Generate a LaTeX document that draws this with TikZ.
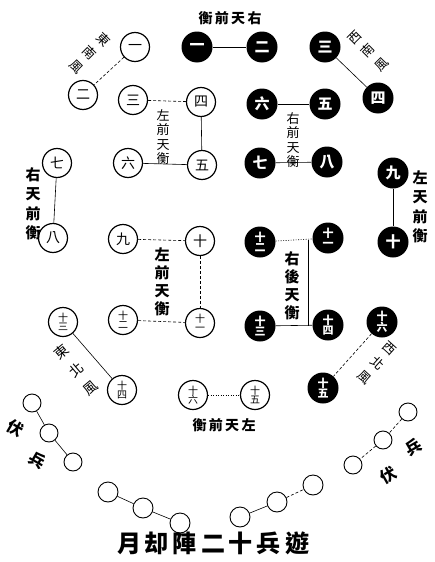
\documentclass[tikz,border=0pt]{standalone}
\usepackage{fontspec}
\newfontfamily\cjk{Noto Sans CJK TC}
\begin{document}
\begin{tikzpicture}[x=1pt, y=-1pt,
  wpost/.style={circle, draw, line width=1.2pt, minimum size=29pt, inner sep=0pt, font=\cjk\fontsize{14}{14}\selectfont},
  bpost/.style={circle, fill=black, text=white, minimum size=31pt, inner sep=0pt, font=\cjk\bfseries\fontsize{15}{15}\selectfont},
  two/.style={align=center, font=\cjk\fontsize{10}{9.5}\selectfont},
  btwo/.style={align=center, font=\cjk\bfseries\fontsize{11}{10}\selectfont},
  ring/.style={circle, draw, line width=0.9pt, minimum size=18pt, inner sep=0pt},
  col/.style={align=center, inner sep=0pt, font=\cjk\fontsize{13}{14.5}\selectfont},
  windcol/.style={align=center, inner sep=0pt, font=\cjk\fontsize{13}{19}\selectfont},
  tallcol/.style={align=center, inner sep=0pt, font=\cjk\bfseries\fontsize{15}{19.5}\selectfont},
  head/.style={font=\cjk\bfseries\fontsize{14}{14}\selectfont},
  link/.style={line width=0.6pt},
  dashlink/.style={line width=0.6pt, dash pattern=on 3pt off 2pt},
  dotlink/.style={line width=0.6pt, dash pattern=on 1pt off 1.5pt}]
  \useasboundingbox (0,0) rectangle (434,562);

  % top row
  \node[wpost] (w1) at (135,47) {一};
  \node[wpost] (w2) at (83,95) {二};
  \node[bpost] (b1) at (197,47) {一};
  \node[bpost] (b2) at (262,47) {二};
  \node[bpost] (b3) at (325,47) {三};
  \node[bpost] (b4) at (378,98) {四};
  \node[head] (ttop) at (230,18) {衡\,前\,天\,右};
  \node[windcol, rotate=-45] (tse) at (90,53) {東\\南\\風};
  \node[windcol, rotate=45] (tsw) at (368,51) {西\\南\\風};

  \draw[dashlink] (w1) -- (w2);
  \draw[link] (b1) -- (b2);
  \draw[link] (b3) -- (b4);

  % second row
  \node[wpost] (w3) at (133,100) {三};
  \node[wpost] (w4) at (201,102) {四};
  \node[wpost] (w6) at (128,163) {六};
  \node[wpost] (w5) at (202,165) {五};
  \node[col] (tlf1) at (163,137) {左\\前\\天\\衡};
  \node[bpost] (b6) at (262,104) {六};
  \node[bpost] (b5) at (325,104) {五};
  \node[bpost] (b7) at (260,163) {七};
  \node[bpost] (b8) at (327,162) {八};
  \node[col] (trf1) at (293,140) {右\\前\\天\\衡};

  \draw[dashlink] (w3) -- (w4);
  \draw[link] (w4) -- (w5);
  \draw[link] (w6) -- (w5);
  \draw[link] (b6) -- (b5);
  \draw[link] (b7) -- (b8);

  % side pairs
  \node[wpost] (w7) at (57,163) {七};
  \node[wpost] (w8) at (53,238) {八};
  \node[tallcol] (trt) at (33,204) {右\\天\\前\\衡};
  \node[bpost] (b9) at (393,173) {九};
  \node[bpost] (b10) at (393,242) {十};
  \node[tallcol] (tlt) at (420,207) {左\\天\\前\\衡};

  \draw[link] (w7) -- (w8);
  \draw[link] (b9) -- (b10);

  % third row
  \node[wpost] (w9) at (123,239) {九};
  \node[wpost] (w10) at (200,241) {十};
  \node[wpost, two] (w12) at (123,320) {十\\二};
  \node[wpost, two] (w11) at (200,323) {十\\一};
  \node[tallcol, font=\cjk\bfseries\fontsize{15}{18}\selectfont] (tlf2) at (162,282) {左\\前\\天\\衡};
  \node[bpost, btwo] (b12) at (260,242) {十\\二};
  \node[bpost, btwo] (b11) at (328,238) {十\\一};
  \node[bpost, btwo] (b13) at (260,326) {十\\三};
  \node[bpost, btwo] (b14) at (328,325) {十\\四};
  \node[tallcol, font=\cjk\bfseries\fontsize{15}{18}\selectfont] (trb) at (292,286) {右\\後\\天\\衡};
  \coordinate (kTop) at (308,240);
  \coordinate (kBot) at (308,326);

  \draw[dashlink] (w9) -- (w10);
  \draw[dashlink] (w10) -- (w11);
  \draw[dashlink] (w12) -- (w11);
  \draw[dotlink] (b12) -- (b11);
  \draw[link] (kTop) -- (kBot);
  \draw[link] (b13) -- (b14);

  % lower pairs
  \node[wpost, two] (w13) at (63,322) {十\\三};
  \node[wpost, two] (w14) at (122,390) {十\\四};
  \node[windcol, font=\cjk\fontsize{14}{23}\selectfont, rotate=40] (tne) at (76,370) {東\\北\\風};
  \node[wpost, two] (w16) at (193,395) {十\\六};
  \node[wpost, two] (w15) at (255,395) {十\\五};
  \node[head] (tbot) at (224,425) {衡\,前\,天\,左};
  \node[bpost, btwo] (b16) at (382,322) {十\\六};
  \node[bpost, btwo] (b15) at (323,388) {十\\五};
  \node[windcol, rotate=-42] (tnw) at (377,363) {西\\北\\風};

  \draw[link] (w13) -- (w14);
  \draw[dotlink] (w16) -- (w15);
  \draw[dashlink] (b16) -- (b15);

  % ambush chains
  \node[ring] (l1) at (32,403) {};
  \node[ring] (l2) at (49,433) {};
  \node[ring] (l3) at (73,462) {};
  \node[head, font=\cjk\bfseries\fontsize{16}{16}\selectfont, rotate=-30] (tl1) at (15,428) {伏};
  \node[head, font=\cjk\bfseries\fontsize{16}{16}\selectfont, rotate=-30] (tl2) at (37,460) {兵};
  \node[ring] (r1) at (408,412) {};
  \node[ring] (r2) at (383,440) {};
  \node[ring] (r3) at (353,465) {};
  \node[head, font=\cjk\bfseries\fontsize{16}{16}\selectfont, rotate=30] (tr1) at (413,447) {兵};
  \node[head, font=\cjk\bfseries\fontsize{16}{16}\selectfont, rotate=30] (tr2) at (388,475) {伏};
  \node[ring, minimum size=20pt] (bl1) at (108,492) {};
  \node[ring, minimum size=20pt] (bl2) at (143,508) {};
  \node[ring, minimum size=20pt] (bl3) at (180,523) {};
  \node[ring, minimum size=20pt] (br1) at (240,517) {};
  \node[ring, minimum size=20pt] (br2) at (277,502) {};
  \node[ring, minimum size=20pt] (br3) at (313,485) {};

  \draw[link] (l1) -- (l2);
  \draw[link] (l2) -- (l3);
  \draw[dashlink] (r1) -- (r2);
  \draw[dashlink] (r2) -- (r3);
  \draw[link] (bl1) -- (bl2);
  \draw[link] (bl2) -- (bl3);
  \draw[link] (br1) -- (br2);
  \draw[dashlink] (br2) -- (br3);

  % title
  \node[font=\cjk\bfseries\fontsize{24}{24}\selectfont] (title) at (213,543) {月\,却\,陣\,二\,十\,兵\,遊};
\end{tikzpicture}
\end{document}
